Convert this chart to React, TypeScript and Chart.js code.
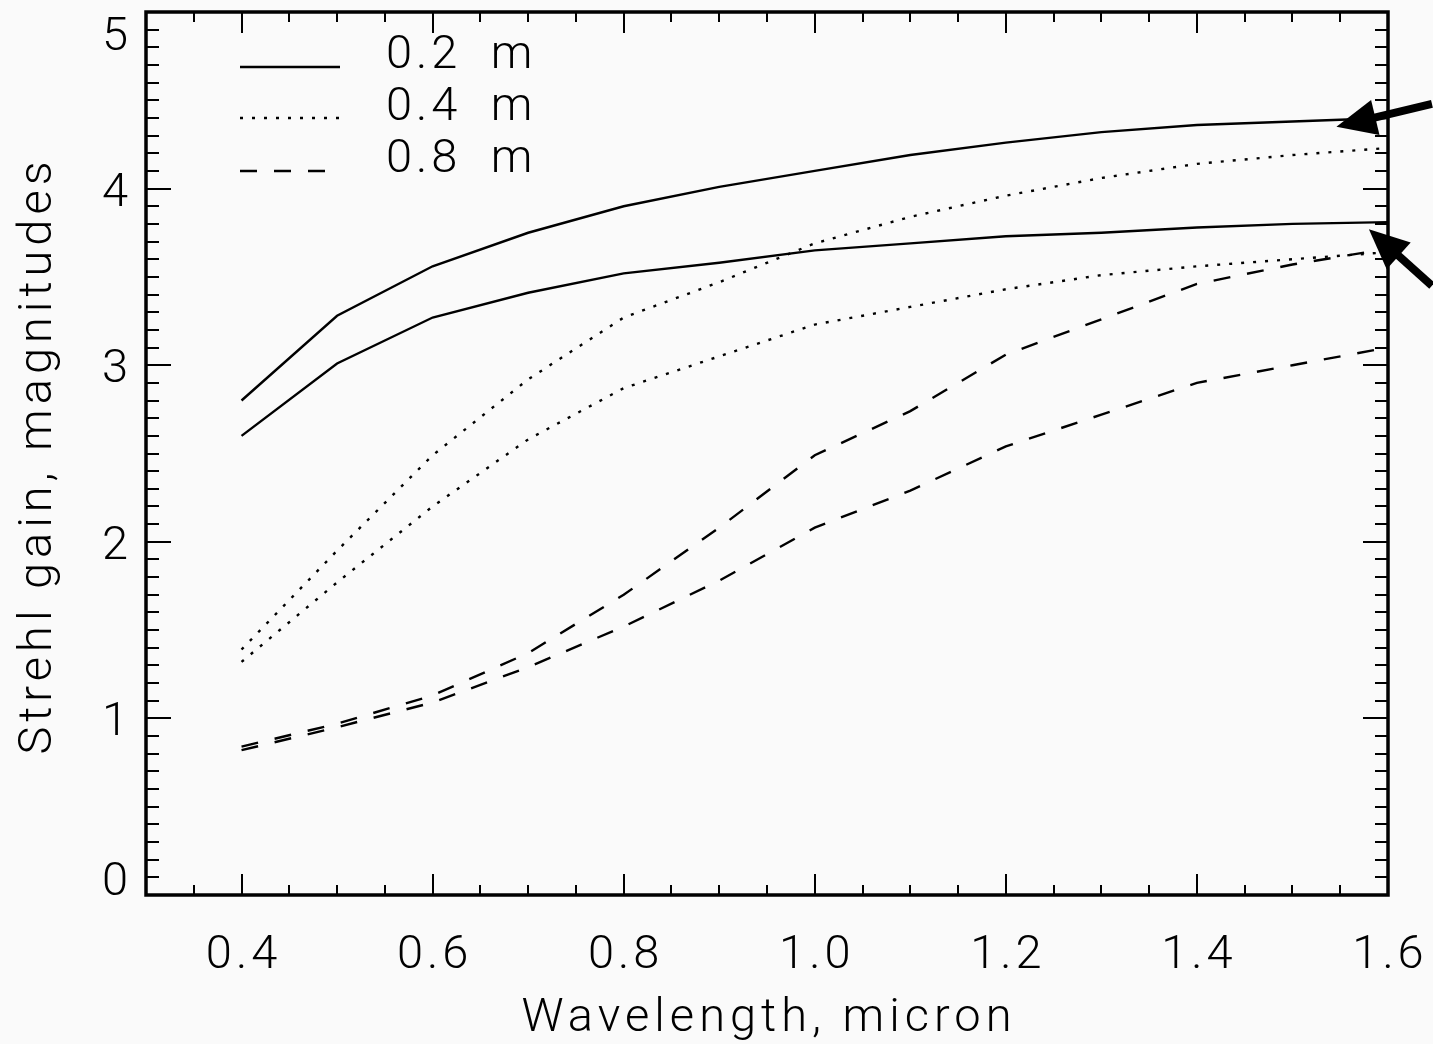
import React, { useEffect, useRef } from "react";
import { Chart, registerables } from "chart.js";

Chart.register(...registerables);

// ---------- data ----------
const wavelengths = [0.4, 0.5, 0.6, 0.7, 0.8, 0.9, 1.0, 1.1, 1.2, 1.3, 1.4, 1.5, 1.6];
// 0.2 m (solid), two curves
const gain02Upper = [2.80, 3.28, 3.56, 3.75, 3.90, 4.01, 4.10, 4.19, 4.26, 4.32, 4.36, 4.38, 4.40];
const gain02Lower = [2.60, 3.01, 3.27, 3.41, 3.52, 3.58, 3.65, 3.69, 3.73, 3.75, 3.78, 3.80, 3.81];
// 0.4 m (dotted), two curves
const gain04Upper = [1.39, 1.95, 2.49, 2.92, 3.27, 3.47, 3.69, 3.84, 3.96, 4.06, 4.14, 4.19, 4.23];
const gain04Lower = [1.32, 1.77, 2.20, 2.58, 2.87, 3.05, 3.23, 3.33, 3.43, 3.51, 3.56, 3.60, 3.64];
// 0.8 m (dashed), two curves
const gain08Upper = [0.84, 0.97, 1.13, 1.37, 1.70, 2.08, 2.49, 2.74, 3.06, 3.26, 3.46, 3.57, 3.66];
const gain08Lower = [0.82, 0.95, 1.09, 1.29, 1.52, 1.78, 2.08, 2.29, 2.54, 2.72, 2.90, 3.00, 3.10];

const xTickValues = [0.4, 0.6, 0.8, 1.0, 1.2, 1.4, 1.6];
const xTickLabels = ["0.4", "0.6", "0.8", "1.0", "1.2", "1.4", "1.6"];
const yTickValues = [0, 1, 2, 3, 4, 5];
const yTickLabels = ["0", "1", "2", "3", "4", "5"];
const legendLabels = ["0.2 m", "0.4 m", "0.8 m"];
const xTitle = "Wavelength, micron";
const yTitle = "Strehl gain, magnitudes";

// arrows (tail -> tip), in data coordinates
const arrowTails = [[1.646, 4.48], [1.646, 3.45]];
const arrowTips = [[1.546, 4.35], [1.580, 3.77]];

// ---------- style ----------
const INK = "#000000";
const BG = "#fafafa";
const FONT = "300 47px Roboto, 'DejaVu Sans', sans-serif";
const DOTTED = [3, 9];
const DASHED = [17, 17];

const toPts = (ys: number[]) => wavelengths.map((x, i) => ({ x, y: ys[i] }));

const framePlugin = {
  id: "idlFrame",
  beforeDraw(chart: any) {
    const { ctx, width, height } = chart;
    ctx.save();
    ctx.fillStyle = BG;
    ctx.fillRect(0, 0, width, height);
    ctx.restore();
  },
  afterDraw(chart: any) {
    const { ctx, chartArea } = chart;
    const xs = chart.scales.x;
    const ys = chart.scales.y;
    const { left, right, top, bottom } = chartArea;
    ctx.save();
    ctx.strokeStyle = INK;
    ctx.fillStyle = INK;

    // frame
    ctx.lineWidth = 3.5;
    ctx.strokeRect(left, top, right - left, bottom - top);

    // x ticks (bottom and top)
    ctx.lineWidth = 2;
    for (let k = 1; k < 26; k++) {
      const v = 0.3 + k * 0.05;
      const major = Math.abs(v / 0.2 - Math.round(v / 0.2)) < 1e-6;
      const len = major ? 21 : 10;
      const px = Math.round(xs.getPixelForValue(v));
      ctx.beginPath();
      ctx.moveTo(px, bottom);
      ctx.lineTo(px, bottom - len);
      ctx.moveTo(px, top);
      ctx.lineTo(px, top + len);
      ctx.stroke();
    }
    // y ticks (left and right)
    for (let k = 1; k < 50; k++) {
      const v = k * 0.1;
      const major = k % 10 === 0;
      const len = major ? 25 : 13;
      const py = Math.round(ys.getPixelForValue(v));
      ctx.beginPath();
      ctx.moveTo(left, py);
      ctx.lineTo(left + len, py);
      ctx.moveTo(right, py);
      ctx.lineTo(right - len, py);
      ctx.stroke();
    }

    // tick labels
    ctx.font = FONT;
    (ctx as any).letterSpacing = "4px";
    ctx.textAlign = "center";
    ctx.textBaseline = "alphabetic";
    xTickValues.forEach((v, i) => {
      ctx.fillText(xTickLabels[i], xs.getPixelForValue(v) + 2, 968);
    });
    ctx.textAlign = "right";
    yTickValues.forEach((v, i) => {
      const py = ys.getPixelForValue(v);
      let base = py + 17;
      if (i === 0) base = bottom;
      if (i === yTickValues.length - 1) base = top + 38;
      ctx.fillText(yTickLabels[i], left - 14, base);
    });

    // axis titles
    ctx.textAlign = "center";
    (ctx as any).letterSpacing = "5px";
    ctx.fillText(xTitle, (left + right) / 2 + 2, 1031);
    ctx.save();
    ctx.translate(51, (top + bottom) / 2 + 2);
    ctx.rotate(-Math.PI / 2);
    ctx.fillText(yTitle, 0, 0);
    ctx.restore();

    // legend
    (ctx as any).letterSpacing = "4px";
    (ctx as any).wordSpacing = "14px";
    const dashes = [[], DOTTED, DASHED];
    const lineY = [67, 118, 171];
    const textY = [68, 120, 172];
    legendLabels.forEach((lab, i) => {
      ctx.save();
      ctx.lineWidth = 2.4;
      ctx.setLineDash(dashes[i]);
      ctx.beginPath();
      ctx.moveTo(240, lineY[i]);
      ctx.lineTo(340, lineY[i]);
      ctx.stroke();
      ctx.restore();
      ctx.textAlign = "left";
      ctx.fillText(lab, 386, textY[i]);
    });
    (ctx as any).wordSpacing = "0px";

    // arrows
    arrowTails.forEach((t, i) => {
      const tip = arrowTips[i];
      const x0 = xs.getPixelForValue(t[0]);
      const y0 = ys.getPixelForValue(t[1]);
      const x1 = xs.getPixelForValue(tip[0]);
      const y1 = ys.getPixelForValue(tip[1]);
      const ang = Math.atan2(y1 - y0, x1 - x0);
      const headLen = 40;
      const headHalf = 18;
      const bx = x1 - headLen * Math.cos(ang);
      const by = y1 - headLen * Math.sin(ang);
      ctx.lineWidth = 8;
      ctx.setLineDash([]);
      ctx.beginPath();
      ctx.moveTo(x0, y0);
      ctx.lineTo(bx + 5 * Math.cos(ang), by + 5 * Math.sin(ang));
      ctx.stroke();
      ctx.beginPath();
      ctx.moveTo(x1, y1);
      ctx.lineTo(bx - headHalf * Math.sin(ang), by + headHalf * Math.cos(ang));
      ctx.lineTo(bx + headHalf * Math.sin(ang), by - headHalf * Math.cos(ang));
      ctx.closePath();
      ctx.fill();
    });

    ctx.restore();
  },
};

export default function App() {
  const ref = useRef<HTMLCanvasElement | null>(null);
  useEffect(() => {
    document.body.style.margin = "0";
    document.body.style.background = BG;
    const canvas = ref.current!;
    const mk = (label: string, ys: number[], dash: number[]) => ({
      label,
      data: toPts(ys),
      borderColor: INK,
      backgroundColor: INK,
      borderWidth: 2.4,
      borderDash: dash,
      pointRadius: 0,
      tension: 0,
      fill: false,
    });
    const chart = new Chart(canvas, {
      type: "line",
      data: {
        datasets: [
          mk("0.2 m (upper)", gain02Upper, []),
          mk("0.2 m (lower)", gain02Lower, []),
          mk("0.4 m (upper)", gain04Upper, DOTTED),
          mk("0.4 m (lower)", gain04Lower, DOTTED),
          mk("0.8 m (upper)", gain08Upper, DASHED),
          mk("0.8 m (lower)", gain08Lower, DASHED),
        ],
      },
      options: {
        responsive: false,
        animation: false,
        devicePixelRatio: 1,
        layout: { padding: { left: 146, right: 45, top: 12, bottom: 149 } },
        scales: {
          x: { type: "linear", min: 0.3, max: 1.6, display: false },
          y: { type: "linear", min: 0, max: 5, display: false },
        },
        plugins: { legend: { display: false }, tooltip: { enabled: false } },
      },
      plugins: [framePlugin],
    } as any);
    return () => chart.destroy();
  }, []);
  return <canvas ref={ref} width={1433} height={1044} style={{ display: "block" }} />;
}
